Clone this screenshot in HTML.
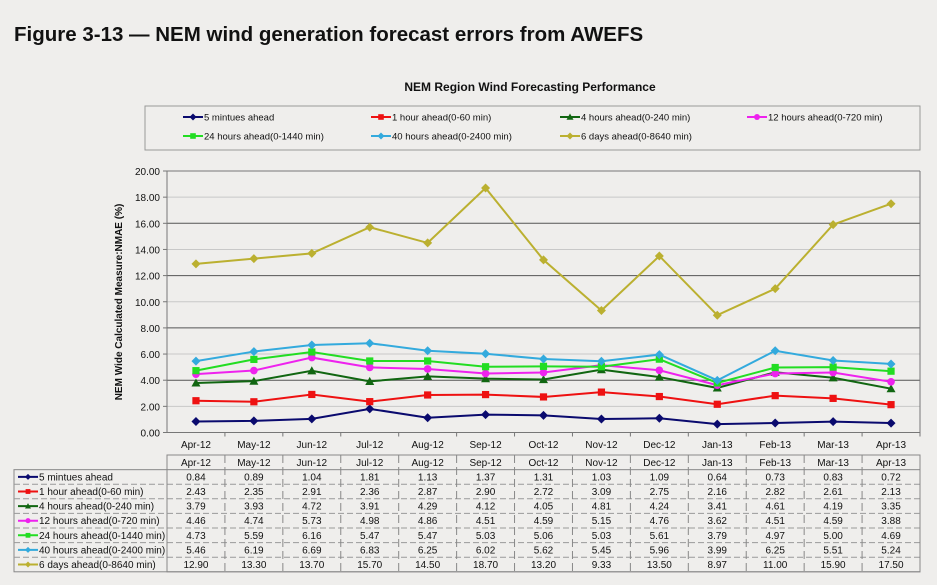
<!DOCTYPE html>
<html><head><meta charset="utf-8"><style>
body{margin:0;background:#efeeec;font-family:"Liberation Sans",sans-serif;}
svg{display:block}
</style></head><body>
<svg width="937" height="585" id="svg">
<rect x="0" y="0" width="937" height="585" fill="#efeeec"/>
<text x="14" y="41" font-size="20.5" font-weight="bold" fill="#111">Figure 3-13 — NEM wind generation forecast errors from AWEFS</text>
<text x="530" y="91" font-size="12" font-weight="bold" text-anchor="middle" fill="#111">NEM Region Wind Forecasting Performance</text>
<rect x="145" y="106" width="775" height="44" fill="none" stroke="#999"/>
<g id="legend"></g>
<g id="grid"></g>
<g id="axes"></g>
<text transform="translate(122,302) rotate(-90)" font-size="10" font-weight="bold" text-anchor="middle" fill="#111">NEM Wide Calculated Measure:NMAE  (%)</text>
<g id="series"></g>
<g id="table"></g>
</svg>
<script>
const categories=["Apr-12","May-12","Jun-12","Jul-12","Aug-12","Sep-12","Oct-12","Nov-12","Dec-12","Jan-13","Feb-13","Mar-13","Apr-13"];
const seriesNames=["5 mintues ahead","1 hour ahead(0-60 min)","4 hours ahead(0-240 min)","12 hours ahead(0-720 min)","24 hours ahead(0-1440 min)","40 hours ahead(0-2400 min)","6 days ahead(0-8640 min)"];
const s5min=[0.84,0.89,1.04,1.81,1.13,1.37,1.31,1.03,1.09,0.64,0.73,0.83,0.72];
const s1h=[2.43,2.35,2.91,2.36,2.87,2.90,2.72,3.09,2.75,2.16,2.82,2.61,2.13];
const s4h=[3.79,3.93,4.72,3.91,4.29,4.12,4.05,4.81,4.24,3.41,4.61,4.19,3.35];
const s12h=[4.46,4.74,5.73,4.98,4.86,4.51,4.59,5.15,4.76,3.62,4.51,4.59,3.88];
const s24h=[4.73,5.59,6.16,5.47,5.47,5.03,5.06,5.03,5.61,3.79,4.97,5.00,4.69];
const s40h=[5.46,6.19,6.69,6.83,6.25,6.02,5.62,5.45,5.96,3.99,6.25,5.51,5.24];
const s6d=[12.90,13.30,13.70,15.70,14.50,18.70,13.20,9.33,13.50,8.97,11.00,15.90,17.50];
const yTicks=[0,2,4,6,8,10,12,14,16,18,20];
const allSeries=[s5min,s1h,s4h,s12h,s24h,s40h,s6d];
const colors=["#0a0a6e","#ee1111","#116611","#ee22ee","#22dd22","#33aadd","#bbb030"];
const markers=["diamond","square","triangle","circle","square","diamond","diamond"];
const NS="http://www.w3.org/2000/svg";
const L=167,R=920,T=171,B=432.5,band=(R-L)/categories.length;
const x=i=>L+band*(i+0.5);
const y=v=>B-(v/20)*(B-T);
function mk(tag,attrs,parent){const e=document.createElementNS(NS,tag);for(const k in attrs)e.setAttribute(k,attrs[k]);parent.appendChild(e);return e;}
function marker(type,cx,cy,col,parent,s){
  let e;
  if(type==="diamond")e=mk("polygon",{points:`${cx},${cy-s} ${cx+s},${cy} ${cx},${cy+s} ${cx-s},${cy}`,fill:col},parent);
  else if(type==="square")e=mk("rect",{x:cx-s*0.8,y:cy-s*0.8,width:s*1.6,height:s*1.6,fill:col},parent);
  else if(type==="triangle")e=mk("polygon",{points:`${cx},${cy-s} ${cx+s},${cy+s*0.8} ${cx-s},${cy+s*0.8}`,fill:col},parent);
  else e=mk("circle",{cx:cx,cy:cy,r:s*0.85,fill:col},parent);
  return e;
}
const grid=document.getElementById('grid'),axes=document.getElementById('axes');
yTicks.forEach(t=>{
  const g=mk("line",{x1:L,x2:R,y1:y(t),y2:y(t),stroke:(t%4===0&&t>0)?"#555":"#c8c8c8","stroke-width":1},grid);
  
  
  const tx=mk("text",{x:L-7,y:y(t)+4,"font-size":10,"text-anchor":"end",fill:"#111"},axes);
  tx.textContent=t.toFixed(2);
  
  
  mk("line",{x1:L-4,x2:L,y1:y(t),y2:y(t),stroke:"#777"},axes);
});
mk("line",{x1:L,x2:L,y1:T,y2:B,stroke:"#777"},axes);
mk("line",{x1:R,x2:R,y1:T,y2:B,stroke:"#777"},axes);
mk("line",{x1:L,x2:R,y1:T,y2:T,stroke:"#777"},axes);
mk("line",{x1:L,x2:R,y1:B,y2:B,stroke:"#777"},axes);
categories.forEach((c,i)=>{
  const tx=mk("text",{x:x(i),y:448,"font-size":10,"text-anchor":"middle",fill:"#111"},axes);
  tx.textContent=c;
  
  
  mk("line",{x1:L+band*(i+1),x2:L+band*(i+1),y1:B,y2:B+4,stroke:"#777"},axes);
});
const sg=document.getElementById('series');
allSeries.forEach((vals,si)=>{
  const g=mk("g",{},sg);
  
  
  const pl=mk("polyline",{points:vals.map((v,i)=>x(i)+","+y(v)).join(" "),fill:"none",stroke:colors[si],"stroke-width":2},g);
  
  
  vals.forEach((v,i)=>{
    const m=marker(markers[si],x(i),y(v),colors[si],g,4.5);
    
    
  });
});
// legend
const lg=document.getElementById('legend');
seriesNames.forEach((n,si)=>{
  const lx=[183,371,560,747,183,371,560][si], ly=si<4?117:136;
  const g=mk("g",{},lg);
  
  
  mk("line",{x1:lx,x2:lx+20,y1:ly,y2:ly,stroke:colors[si],"stroke-width":2},g);
  marker(markers[si],lx+10,ly,colors[si],g,3.5);
  const t=mk("text",{x:lx+21,y:ly+3.5,"font-size":9.5,fill:"#111"},g);
  t.textContent=n;
});
// table
const tb=document.getElementById('table');
const TT=455,rh=14.6,TL=14;
const rows=seriesNames.length;
mk("rect",{x:L,y:TT,width:R-L,height:rh*(rows+1),fill:"none",stroke:"#888"},tb);
mk("rect",{x:TL,y:TT+rh,width:R-TL,height:rh*rows,fill:"none",stroke:"#888"},tb);
for(let r=1;r<=rows;r++)mk("line",{x1:TL,x2:R,y1:TT+rh*r,y2:TT+rh*r,stroke:"#999","stroke-dasharray":r===1?"":"6,3"},tb);
for(let i=0;i<=categories.length;i++)mk("line",{x1:L+band*i,x2:L+band*i,y1:TT,y2:TT+rh*(rows+1),stroke:"#888","stroke-dasharray":"8,4"},tb);
categories.forEach((c,i)=>{
  const t=mk("text",{x:x(i),y:TT+11,"font-size":10,"text-anchor":"middle",fill:"#111"},tb);
  t.textContent=c;
  
  
});
allSeries.forEach((vals,si)=>{
  const ry=TT+rh*(si+1), cy=ry+rh/2;
  mk("line",{x1:TL+4,x2:TL+24,y1:cy,y2:cy,stroke:colors[si],"stroke-width":2},tb);
  marker(markers[si],TL+14,cy,colors[si],tb,3);
  const lab=mk("text",{x:TL+25,y:cy+3.5,"font-size":10,fill:"#111"},tb);
  lab.textContent=seriesNames[si];
  
  
  vals.forEach((v,i)=>{
    const t=mk("text",{x:x(i),y:cy+3.5,"font-size":10,"text-anchor":"middle",fill:"#111"},tb);
    t.textContent=v.toFixed(2);
    
    
  });
});
</script>
</body></html>
